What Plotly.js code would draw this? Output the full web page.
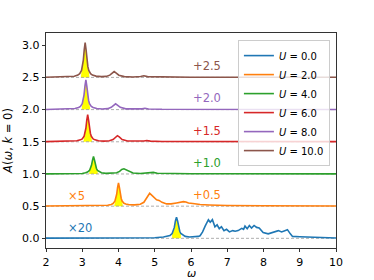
<!DOCTYPE html>
<html><head><meta charset="utf-8">
<script src="https://cdn.plot.ly/plotly-3.0.1.min.js"></script>
<style>html,body{margin:0;padding:0;background:#fff}#plot{width:374px;height:280px}</style>
</head><body><div id="plot"></div>
<script>
// ---- data (values above each curve's offset) ----
const labels = ["0.0","2.0","4.0","6.0","8.0","10.0"];
const offsets = [0.0, 0.5, 1.0, 1.5, 2.0, 2.5];
const peakCenters = [5.6, 4.0, 3.31, 3.15, 3.10, 3.08];
const colors = ["#1f77b4","#ff7f0e","#2ca02c","#d62728","#9467bd","#8c564b"];
const offsetLabels = ["", "+0.5", "+1.0", "+1.5", "+2.0", "+2.5"];
const scaleLabels = ["×20", "×5", "", "", "", ""];

const x0 = [2.0,3.0,4.0,4.6,5.0,5.24,5.36,5.42,5.48,5.51,5.54,5.57,5.60,5.63,5.66,5.69,5.72,5.78,5.84,5.96,6.1,6.2,
  6.25,6.32,6.39,6.45,6.48,6.53,6.59,6.66,6.72,6.78,6.84,6.91,6.98,7.06,7.15,7.22,7.3,7.4,7.45,7.49,7.55,7.61,7.67,7.74,7.81,7.88,7.99,8.13,8.25,8.32,8.41,8.5,8.66,8.74,8.8,9.0,9.46,9.8,10.0];
const y0 = [0.003,0.004,0.005,0.007,0.01,0.02,0.03,0.045,0.075,0.11,0.17,0.27,0.33,0.27,0.17,0.11,0.075,0.045,0.03,0.02,0.02,0.03,
  0.04,0.10,0.19,0.26,0.29,0.25,0.29,0.18,0.21,0.15,0.18,0.12,0.14,0.10,0.12,0.11,0.12,0.155,0.14,0.19,0.15,0.20,0.16,0.20,0.17,0.16,0.09,0.07,0.09,0.10,0.12,0.10,0.135,0.07,0.03,0.025,0.02,0.008,0.005];

const x1 = [2.0,3.0,3.5,3.7,3.8,3.85,3.9,3.925,3.95,3.975,4.0,4.025,4.05,4.075,4.1,4.15,4.2,4.3,4.45,4.6,4.7,4.76,4.81,4.86,4.9,4.95,5.0,5.05,5.12,5.2,5.33,5.45,5.6,5.7,5.79,5.86,5.93,6.05,6.25,6.5,7.0,8.0,9.0,10.0];
const y1 = [0.003,0.004,0.008,0.015,0.027,0.04,0.077,0.117,0.185,0.29,0.36,0.29,0.185,0.12,0.08,0.045,0.032,0.022,0.02,0.03,0.06,0.11,0.17,0.20,0.18,0.15,0.13,0.10,0.09,0.06,0.035,0.035,0.05,0.065,0.07,0.065,0.05,0.04,0.025,0.018,0.01,0.006,0.004,0.003];

const x2 = [2.0,2.8,3.0,3.09,3.145,3.2,3.228,3.255,3.283,3.31,3.337,3.365,3.392,3.42,3.475,3.53,3.65,3.85,3.95,4.03,4.09,4.15,4.21,4.28,4.4,4.6,4.85,4.96,5.07,5.4,6.0,7.0,10.0];
const y2 = [0.002,0.004,0.008,0.018,0.03,0.055,0.085,0.135,0.216,0.27,0.216,0.135,0.085,0.055,0.03,0.018,0.01,0.01,0.02,0.04,0.07,0.08,0.065,0.035,0.015,0.008,0.012,0.025,0.012,0.006,0.004,0.003,0.002];

const x3 = [2.0,2.6,2.8,2.85,2.95,3.0,3.05,3.075,3.1,3.125,3.15,3.175,3.2,3.225,3.25,3.3,3.35,3.45,3.6,3.75,3.85,3.92,3.97,4.02,4.1,4.25,4.5,4.7,4.78,4.88,5.2,6.0,10.0];
const y3 = [0.002,0.005,0.01,0.015,0.03,0.045,0.085,0.13,0.21,0.336,0.42,0.336,0.21,0.13,0.085,0.045,0.03,0.016,0.01,0.015,0.035,0.075,0.095,0.075,0.035,0.012,0.006,0.012,0.02,0.01,0.005,0.003,0.002];

const x4 = [2.0,2.55,2.75,2.8,2.9,2.95,3.0,3.025,3.05,3.075,3.10,3.125,3.15,3.175,3.2,3.25,3.3,3.4,3.55,3.7,3.8,3.87,3.92,3.97,4.05,4.2,4.45,4.65,4.73,4.83,5.2,6.0,10.0];
const y4 = [0.002,0.005,0.01,0.016,0.032,0.05,0.092,0.143,0.23,0.368,0.46,0.368,0.23,0.143,0.092,0.05,0.032,0.017,0.01,0.015,0.035,0.07,0.09,0.07,0.035,0.012,0.006,0.012,0.02,0.01,0.005,0.003,0.002];

const x5 = [2.0,2.5,2.7,2.78,2.88,2.93,2.98,3.005,3.03,3.055,3.08,3.105,3.13,3.155,3.18,3.23,3.28,3.38,3.53,3.66,3.76,3.83,3.88,3.93,4.01,4.16,4.4,4.61,4.70,4.80,5.2,6.0,10.0];
const y5 = [0.002,0.006,0.012,0.018,0.036,0.058,0.108,0.167,0.27,0.432,0.54,0.432,0.27,0.167,0.108,0.058,0.036,0.02,0.012,0.016,0.035,0.07,0.09,0.07,0.035,0.012,0.006,0.014,0.025,0.012,0.006,0.003,0.002];

const xs = [x0,x1,x2,x3,x4,x5];
const ys = [y0,y1,y2,y3,y4,y5];
const fillHalfWidth = 0.12;

// ---- traces ----
const traces = [];
// yellow fills under main peaks
for (let i = 0; i < 6; i++) {
  const fx = [], fy = [];
  const lo = peakCenters[i] - fillHalfWidth, hi = peakCenters[i] + fillHalfWidth;
  fx.push(lo); fy.push(offsets[i]);
  for (let j = 0; j < xs[i].length; j++) {
    if (xs[i][j] >= lo && xs[i][j] <= hi) { fx.push(xs[i][j]); fy.push(offsets[i] + ys[i][j]); }
  }
  fx.push(hi); fy.push(offsets[i]);
  traces.push({x: fx, y: fy, mode: 'lines', fill: 'toself', fillcolor: 'yellow',
    line: {width: 0}, showlegend: false, hoverinfo: 'skip'});
}
// dashed baselines
for (let i = 0; i < 6; i++) {
  traces.push({x: [2, 10], y: [offsets[i], offsets[i]], mode: 'lines',
    line: {color: '#999', width: 0.8, dash: '3px,2px'}, showlegend: false, hoverinfo: 'skip'});
}
// curves
for (let i = 0; i < 6; i++) {
  traces.push({x: xs[i], y: ys[i].map(v => v + offsets[i]), mode: 'lines',
    name: '<i>U</i> = ' + labels[i], line: {color: colors[i], width: 1.6}});
}

const annotations = [];
for (let i = 0; i < 6; i++) {
  if (offsetLabels[i]) annotations.push({x: 6.44, y: offsets[i] + 0.175, xref: 'x', yref: 'y', text: offsetLabels[i],
    showarrow: false, font: {family: 'DejaVu Sans', size: 11.5, color: colors[i]}});
  if (scaleLabels[i]) annotations.push({x: 2.55, xanchor: 'left', y: offsets[i] + 0.16, xref: 'x', yref: 'y', text: scaleLabels[i],
    showarrow: false, font: {family: 'DejaVu Sans', size: 11.5, color: colors[i]}});
}
// x-axis title
annotations.push({x: 0.5, xref: 'paper', y: -0.12, yref: 'paper', yanchor: 'middle', text: '<i>ω</i>',
  showarrow: false, font: {family: 'DejaVu Sans', size: 11, color: '#000'}});

const axisCommon = {showline: true, linecolor: '#000', linewidth: 0.8, mirror: true, ticks: 'outside',
  ticklen: 3.5, tickwidth: 0.8, tickcolor: '#000', showgrid: false, zeroline: false,
  tickfont: {family: 'DejaVu Sans', size: 11, color: '#000'}};

const layout = {
  width: 374, height: 280,
  margin: {l: 46, r: 38, t: 33, b: 32},
  paper_bgcolor: '#fff', plot_bgcolor: '#fff',
  showlegend: true,
  xaxis: Object.assign({}, axisCommon, {range: [2, 10], dtick: 1}),
  yaxis: Object.assign({}, axisCommon, {range: [-0.15, 3.19], dtick: 0.5, tickformat: '.1f',
    title: {text: '<i>A</i>(<i>ω</i>, <i>k</i> = 0)', font: {family: 'DejaVu Sans', size: 11.5, color: '#000'}, standoff: 6}}),
  legend: {x: 0.979, xanchor: 'right', y: 0.967, yanchor: 'top', bgcolor: 'rgba(255,255,255,0.8)',
    bordercolor: '#ccc', borderwidth: 1, font: {family: 'DejaVu Sans', size: 10, color: '#000'}},
  annotations: annotations
};

Plotly.newPlot('plot', traces, layout, {displayModeBar: false, staticPlot: true});
</script></body></html>
